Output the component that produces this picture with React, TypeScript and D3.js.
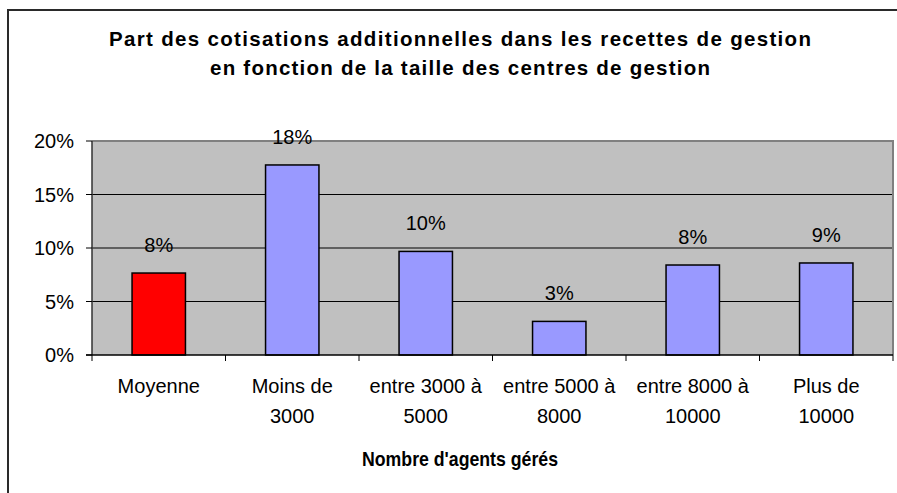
import React from "react";
import * as d3 from "d3";

const categories = [
  "Moyenne",
  "Moins de\n3000",
  "entre 3000 à\n5000",
  "entre 5000 à\n8000",
  "entre 8000 à\n10000",
  "Plus de\n10000",
];
const values = [7.66, 17.76, 9.68, 3.14, 8.41, 8.6];
const valueLabels = ["8%", "18%", "10%", "3%", "8%", "9%"];
const yTicks = [0, 5, 10, 15, 20];
const titleLines = [
  "Part des cotisations additionnelles dans les recettes de gestion",
  "en fonction de la taille des centres de gestion",
];
const xAxisTitle = "Nombre d'agents gérés";

const W = 897;
const H = 493;
const plot = { left: 92, right: 893, top: 141, bottom: 355 };
const FONT = "'Liberation Sans', Arial, sans-serif";

export default function App() {
  const x = d3
    .scaleBand<string>()
    .domain(categories)
    .range([plot.left, plot.right])
    .paddingInner(0.6)
    .paddingOuter(0.3);
  const y = d3.scaleLinear().domain([0, 20]).range([plot.bottom, plot.top]);
  const step = x.step();
  const tickXs = d3.range(categories.length + 1).map((i) => plot.left + i * step);

  return (
    <svg
      width={W}
      height={H}
      style={{ position: "absolute", left: 0, top: 0, background: "#fff" }}
      fontFamily={FONT}
    >
      <rect x={0} y={0} width={W} height={H} fill="#fff" />
      {/* outer frame (cropped on right/bottom) */}
      <rect x={8} y={10} width={W + 20} height={H + 20} fill="none" stroke="#2a2a2a" strokeWidth={2} />

      {/* title */}
      {titleLines.map((t, i) => (
        <text
          key={i}
          x={460}
          y={46 + i * 29}
          textAnchor="middle"
          fontSize={20.5}
          fontWeight="bold"
          fill="#000"
          textLength={i === 0 ? 702 : 500}
          lengthAdjust="spacing"
        >
          {t}
        </text>
      ))}

      {/* plot background */}
      <rect
        x={plot.left}
        y={plot.top}
        width={plot.right - plot.left}
        height={plot.bottom - plot.top}
        fill="#C0C0C0"
      />
      {/* gridlines */}
      {yTicks.slice(1, -1).map((t) => (
        <line key={t} x1={plot.left} x2={plot.right} y1={y(t)} y2={y(t)} stroke="#000" strokeWidth={1} />
      ))}
      {/* plot border top/right */}
      <path
        d={`M${plot.left},${plot.top}H${plot.right}V${plot.bottom}`}
        fill="none"
        stroke="#808080"
        strokeWidth={2}
      />

      {/* bars */}
      {categories.map((c, i) => (
        <rect
          key={c}
          x={x(c)}
          y={y(values[i])}
          width={x.bandwidth()}
          height={y(0) - y(values[i])}
          fill={i === 0 ? "#FF0000" : "#9999FF"}
          stroke="#000"
          strokeWidth={1.5}
        />
      ))}

      {/* value labels */}
      {categories.map((c, i) => (
        <text
          key={c}
          x={(x(c) as number) + x.bandwidth() / 2}
          y={y(values[i]) - 21}
          textAnchor="middle"
          fontSize={20}
          fill="#000"
        >
          {valueLabels[i]}
        </text>
      ))}

      {/* axes */}
      <line x1={plot.left} x2={plot.left} y1={plot.top} y2={plot.bottom} stroke="#333" strokeWidth={1.5} />
      <line x1={plot.left - 6} x2={plot.right} y1={plot.bottom} y2={plot.bottom} stroke="#000" strokeWidth={1.5} />
      {yTicks.map((t) => (
        <g key={t}>
          <line x1={plot.left - 6} x2={plot.left} y1={y(t)} y2={y(t)} stroke="#000" strokeWidth={1} />
          <text x={74} y={y(t) + 7} textAnchor="end" fontSize={20} fill="#000">
            {t}%
          </text>
        </g>
      ))}
      {tickXs.map((tx, i) => (
        <line key={i} x1={tx} x2={tx} y1={plot.bottom} y2={plot.bottom + 6} stroke="#000" strokeWidth={1} />
      ))}

      {/* category labels */}
      {categories.map((c) => (
        <text key={c} textAnchor="middle" fontSize={20} fill="#000">
          {c.split("\n").map((line, j) => (
            <tspan key={j} x={(x(c) as number) + x.bandwidth() / 2} y={393 + j * 30}>
              {line}
            </tspan>
          ))}
        </text>
      ))}

      {/* x axis title */}
      <text
        x={460}
        y={466}
        textAnchor="middle"
        fontSize={20.5}
        fontWeight="bold"
        fill="#000"
        textLength={196}
        lengthAdjust="spacingAndGlyphs"
      >
        {xAxisTitle}
      </text>
    </svg>
  );
}
